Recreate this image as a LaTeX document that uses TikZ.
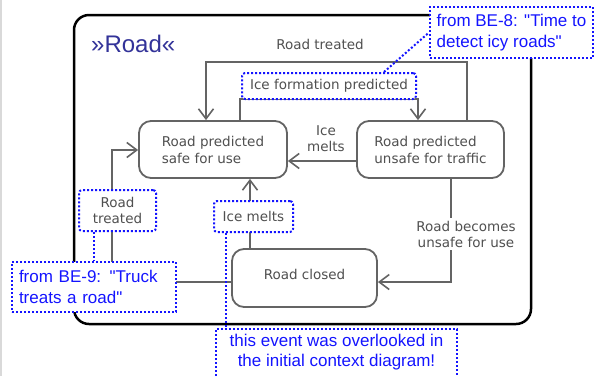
\documentclass[tikz,border=0pt]{standalone}
\usepackage{fontspec}
\setmainfont{Liberation Sans}
\newfontfamily\notefont{Liberation Sans}
\newfontfamily\statefont{DejaVu Sans}
\usetikzlibrary{arrows.meta}

\definecolor{stategray}{RGB}{80,80,80}
\definecolor{linegray}{RGB}{100,100,100}
\definecolor{noteblue}{RGB}{20,20,255}
\definecolor{titleblue}{RGB}{51,51,153}

\begin{document}
\begin{tikzpicture}[x=1pt,y=-1pt,
  statebox/.style={draw=linegray, line width=1.8pt, rounded corners=12pt, fill=white,
    font=\statefont\fontsize{13.5}{17}\selectfont, text=stategray, align=left, inner sep=0pt},
  stlabel/.style={font=\statefont\fontsize{13.5}{16}\selectfont, text=stategray, align=center, inner sep=0pt},
  trans/.style={draw=linegray, line width=1.6pt,
    -{Straight Barb[length=10pt,width=15pt,line width=1.6pt]}},
  dotted blue/.style={draw=noteblue, line width=2pt, dash pattern=on 2pt off 2pt},
  evbox/.style={dotted blue, rounded corners=3pt, fill=white, inner sep=0pt},
  note/.style={dotted blue, fill=white, text=noteblue, font=\notefont\fontsize{17}{20.5}\selectfont},
]
\useasboundingbox (0,0) rectangle (596,376);
\fill[white] (0,0) rectangle (596,376);
\draw[gray!30, line width=2pt] (1,0) -- (1,376);

% package frame
\draw[line width=2.5pt, rounded corners=15pt] (74,15) rectangle (531,324);
\node[text=titleblue, font=\fontsize{24}{28}\selectfont, anchor=west, inner sep=0pt]
  (title) at (91,44) {»Road«};

% states
\node[statebox, minimum width=148pt, minimum height=57pt] (safe) at (213,149.5)
  {Road predicted\\safe for use};
\node[statebox, minimum width=147pt, minimum height=57pt] (unsafe) at (430.5,149.5)
  {Road predicted\\unsafe for traffic};
\node[statebox, minimum width=145pt, minimum height=58pt, text depth=7pt] (closed) at (304.5,278)
  {Road closed};

% bend points of the transitions
\coordinate (t1) at (206,62);
\coordinate (t2) at (467,62);
\coordinate (f1) at (240,99);
\coordinate (f2) at (418,99);
\coordinate (im) at (320,161);
\coordinate (u1) at (451,282);
\coordinate (m1) at (250,220);
\coordinate (l1) at (112,282);
\coordinate (l2) at (112,150);

% transitions
\draw[trans] (unsafe.north -| t2) -- (t2) -- (t1) -- (safe.north -| t1);
\draw[trans] (safe.north -| f1) -- (f1) -- (f2) -- (unsafe.north -| f2);
\draw[trans] (unsafe.west |- im) -- (safe.east |- im);
\draw[trans] (unsafe.south -| u1) -- (u1) -- (closed.east |- u1);
\draw[trans] (closed.north -| m1) -- (safe.south -| m1);
\draw[trans] (closed.west |- l1) -- (l1) -- (l2) -- (safe.west |- l2);

% transition labels
\node[stlabel] (lbltreat) at (320,44) {Road treated};
\node[stlabel] (lblmelt) at (326,139) {Ice\\melts};
\node[stlabel, fill=white, inner sep=3pt] (lblunsafe) at (466,234)
  {Road becomes\\unsafe for use};

% highlighted events
\node[evbox, stlabel, minimum width=174pt, minimum height=26pt] (iceform) at (329,86)
  {Ice formation predicted};
\node[evbox, stlabel, minimum width=79pt, minimum height=31pt] (meltbox) at (253.5,216.5)
  {Ice melts};
\node[evbox, stlabel, minimum width=77pt, minimum height=41pt] (treatbox) at (117.5,210.5)
  {Road\\treated};

% notes
\node[note, align=left, minimum width=163pt, minimum height=51pt]
  (be8) at (511.5,32.5) {from BE-8: "Time to\\detect icy roads"};
\node[note, text width=150pt, align=left, inner xsep=7pt, minimum height=50pt]
  (be9) at (94,287) {from BE-9: "Truck\\treats a road"};
\node[note, align=center, anchor=north, minimum width=241pt, inner ysep=5pt, text depth=30pt]
  (overlook) at (336.5,328) {this event was overlooked in\\the initial context diagram!};

% note links
\draw[dotted blue] ([xshift=-33pt]iceform.north east) -- (be8.west);
\draw[dotted blue] (be9.north |- treatbox.south) -- (be9.north);
\draw[dotted blue] ([xshift=13pt]meltbox.south west) coordinate (mdrop) -- (overlook.north -| mdrop);
\end{tikzpicture}
\end{document}
